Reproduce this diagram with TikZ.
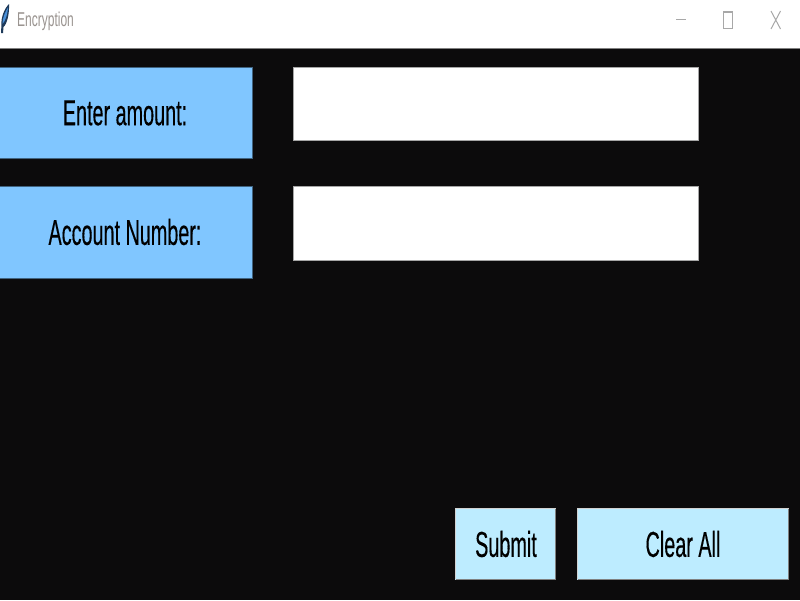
\documentclass[tikz,border=0pt]{standalone}
\usepackage{fontspec}
\setmainfont{Liberation Sans}
\newfontfamily\narrowfont[FakeStretch=0.55,FakeBold=0.25]{Liberation Sans}
\newfontfamily\titlefont[FakeStretch=0.6]{Liberation Sans}
\definecolor{bgdark}{HTML}{0C0B0C}
\definecolor{lblblue}{HTML}{80C6FF}
\definecolor{btnblue}{HTML}{BDECFF}
\definecolor{ctlgray}{HTML}{A8A8A8}
\definecolor{titlegray}{HTML}{9A9490}
\definecolor{quilldark}{HTML}{1E3A5A}
\definecolor{quilllight}{HTML}{4A90D8}
\tikzset{
  x=1pt,y=-1pt,
  lbl/.style={font=\narrowfont\fontsize{36}{36}\selectfont,text=black,anchor=center,inner sep=0pt},
  ctl/.style={draw=ctlgray,line width=1.2pt},
}
\begin{document}
\begin{tikzpicture}
\useasboundingbox (0,0) rectangle (800,600);
\fill[white] (0,0) rectangle (800,48);
\fill[bgdark] (0,48) rectangle (800,600);
\draw[gray,line width=.8pt] (0,48) -- (800,48);
% icon
\fill[quilldark] (1,33) -- (1.5,24) .. controls (1,18) and (4,9) .. (9,4) .. controls (9.5,14) and (7,24) .. (3.5,27) -- (3,33) -- cycle;
\fill[quilllight] (2.5,24) .. controls (2.5,18) and (5,12) .. (8,7.5) .. controls (7.5,14) and (6,20) .. (2.5,24) -- cycle;
\node[font=\titlefont\fontsize{20}{20}\selectfont,text=titlegray,anchor=west,inner sep=0pt] (title) at (17,21) {Encryption};
% window controls
\draw[ctl] (676,19.5) -- (686,19.5);
\draw[ctl] (723.5,12) rectangle (732.5,28.5);
\draw[ctl,line width=1pt] (771,11) -- (780.5,29) (780.5,11) -- (771,29);
% labels
\fill[lblblue] (0,67) rectangle (252,158.5);
\draw[black!50!lblblue,line width=.8pt] (0,67) -- (252,67) -- (252,158.5) -- (0,158.5);
\node[lbl] (amount) at (125,113) {Enter amount:};
\fill[lblblue] (0,186) rectangle (252,278);
\draw[black!50!lblblue,line width=.8pt] (0,186) -- (252,186) -- (252,278) -- (0,278);
\node[lbl] (account) at (125,232) {Account Number:};
% entries
\fill[white] (293,67) rectangle (698.5,140.5);
\draw[gray!70,line width=.8pt] (293,140.5) -- (293,67) -- (698.5,67) -- (698.5,140.5) -- cycle;
\fill[white] (293,186.5) rectangle (698.5,260);
\draw[gray!70,line width=.8pt] (293,260) -- (293,186.5) -- (698.5,186.5) -- (698.5,260) -- cycle;
% buttons
\fill[btnblue] (455,508) rectangle (555.5,579.5);
\draw[gray!35,line width=1pt] (455.5,579) -- (455.5,508.5) -- (555.5,508.5);
\draw[gray,line width=1.4pt] (455.5,579.5) -- (555.5,579.5) -- (555.5,508.5);
\node[lbl] (submit) at (506,544) {Submit};
\fill[btnblue] (577,508) rectangle (788.5,579.5);
\draw[gray!35,line width=1pt] (577.5,579) -- (577.5,508.5) -- (788.5,508.5);
\draw[gray,line width=1.4pt] (577.5,579.5) -- (788.5,579.5) -- (788.5,508.5);
\node[lbl] (clear) at (683,544) {Clear All};
\end{tikzpicture}
\end{document}
